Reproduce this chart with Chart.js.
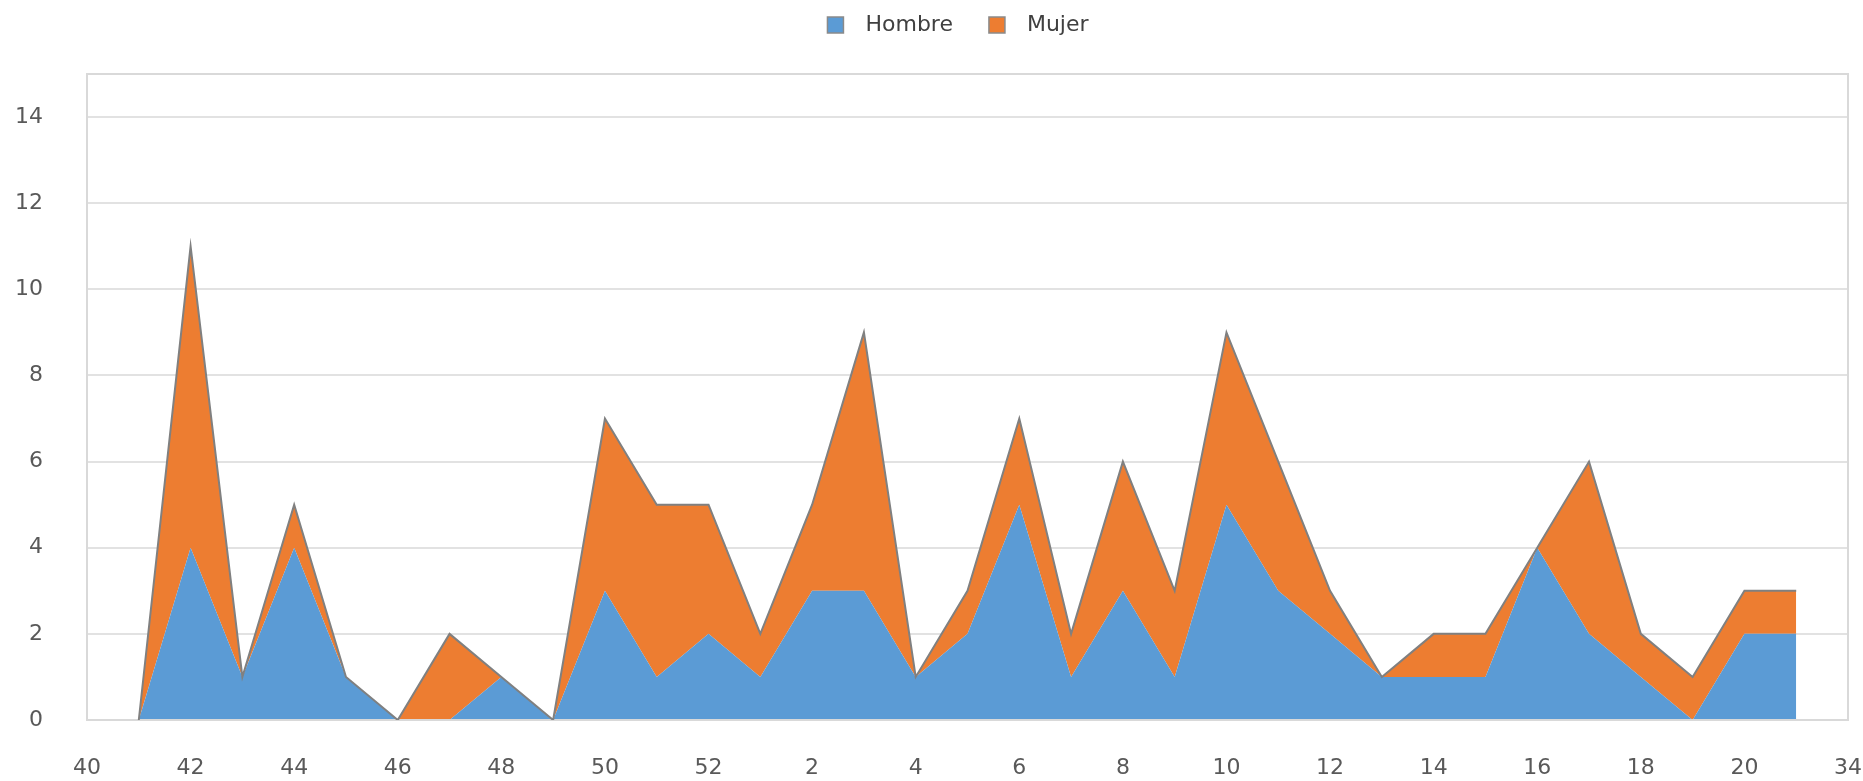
<!DOCTYPE html>
<html><head><meta charset="utf-8">
<script src="https://cdn.jsdelivr.net/npm/chart.js@4.4.0/dist/chart.umd.min.js"></script>
<style>html,body{margin:0;padding:0;background:#fff;}#wrap{width:1863px;height:781px;position:relative;}</style>
</head><body><div id="wrap"><canvas id="c"></canvas></div>
<script>
// Categories (week numbers)
const weeks = ['40','41','42','43','44','45','46','47','48','49','50','51','52',
  '1','2','3','4','5','6','7','8','9','10','11','12','13','14','15','16','17','18','19','20','21','34'];
// Series values
const hombre = [null,0,4,1,4,1,0,0,1,0,3,1,2,1,3,3,1,2,5,1,3,1,5,3,2,1,1,1,4,2,1,0,2,2,null];
const mujer  = [null,0,7,0,1,0,0,2,0,0,4,4,3,1,2,6,0,1,2,1,3,2,4,3,1,0,1,1,0,4,1,1,1,1,null];
const seriesNames = ['Hombre','Mujer'];
const yMin = 0, yMax = 15, yStep = 2;

Chart.defaults.font.family = 'DejaVu Sans';

const legendPatch = {
  id: 'legendPatch',
  beforeLayout(chart) {
    const lg = chart.legend;
    if (lg && !lg.__patched) {
      const f = lg.fit;
      lg.fit = function () { f.call(this); this.height = 74; };
      lg.__patched = true;
    }
  },
  afterLayout(chart) {
    const lg = chart.legend;
    if (lg) { lg.left += 34; lg.right += 34; }
  }
};
const frame = {
  id: 'frame',
  beforeDatasetsDraw(chart) {
    const {ctx, chartArea: a} = chart;
    ctx.save();
    ctx.strokeStyle = '#d9d9d9';
    ctx.lineWidth = 2;
    ctx.strokeRect(a.left, a.top, a.right - a.left, a.bottom - a.top);
    ctx.restore();
  }
};

new Chart(document.getElementById('c'), {
  type: 'line',
  data: {
    labels: weeks,
    datasets: [
      { label: seriesNames[0], data: hombre, backgroundColor: '#5B9BD5', borderColor: 'rgba(0,0,0,0)',
        borderWidth: 1, fill: 'origin' },
      { label: seriesNames[1], data: mujer, backgroundColor: '#ED7D31', borderColor: '#808080',
        borderWidth: 2, fill: '-1' }
    ]
  },
  options: {
    responsive: true,
    maintainAspectRatio: false,
    animation: false,
    layout: { padding: { left: 0, right: 15, top: 0, bottom: 0 } },
    elements: { point: { radius: 0, hoverRadius: 0 }, line: { tension: 0 } },
    plugins: {
      tooltip: { enabled: false },
      filler: { drawTime: 'beforeDatasetsDraw' },
      legend: {
        position: 'top',
        labels: {
          font: { size: 22 },
          color: '#404040',
          boxWidth: 16,
          boxHeight: 16,
          padding: 14,
          generateLabels(chart) {
            const items = Chart.defaults.plugins.legend.labels.generateLabels(chart);
            return items.map((it, i) => {
              it.text = i === 0 ? '\u2002' + it.text + '\u2002\u2002' : '\u2002' + it.text;
              it.strokeStyle = '#8a8a8a';
              it.lineWidth = 1.5;
              return it;
            });
          }
        }
      }
    },
    scales: {
      x: {
        type: 'category',
        offset: false,
        grid: { display: false, drawTicks: false },
        border: { display: false },
        ticks: {
          autoSkip: false, maxRotation: 0, minRotation: 0,
          padding: 35,
          font: { size: 22 }, color: '#595959',
          callback(v, i) { return (i % 2 === 0 || i === weeks.length - 1) ? weeks[i] : ''; }
        },
        afterFit(s) { s.height = 61; s.paddingLeft = 0; s.paddingRight = 0; }
      },
      y: {
        stacked: true,
        min: yMin, max: yMax,
        grid: { color: '#e2e2e2', lineWidth: 2, drawTicks: false },
        border: { display: false },
        ticks: { stepSize: yStep, includeBounds: false, padding: 44, font: { size: 22 }, color: '#595959' },
        afterFit(s) { s.width = 87; }
      }
    }
  },
  plugins: [legendPatch, frame]
});
</script>
</body></html>
